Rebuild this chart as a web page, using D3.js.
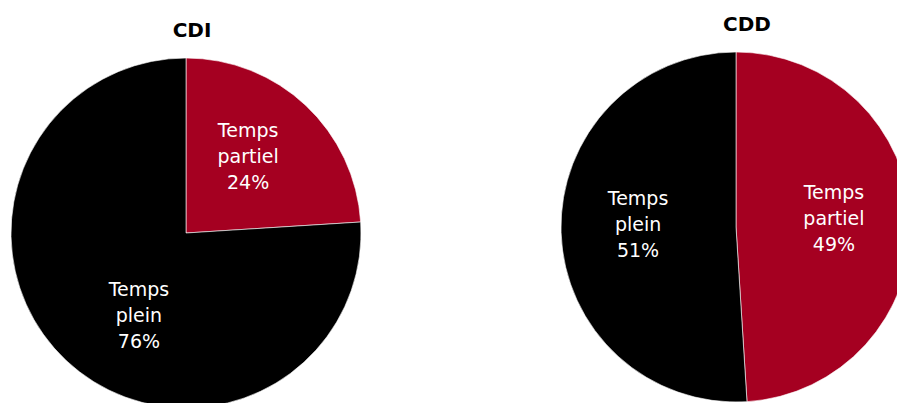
<!DOCTYPE html>
<html>
<head>
<meta charset="utf-8">
<script src="https://cdn.jsdelivr.net/npm/d3@7"></script>
<style>
  html, body { margin: 0; padding: 0; background: #fff; }
  svg { display: block; }
</style>
</head>
<body>
<svg id="chart" width="897" height="403"></svg>
<script>
// Part-time vs full-time share by contract type
const contracts = ["CDI", "CDD"];
const categories = ["Temps partiel", "Temps plein"];
const tempsPartiel = [24, 49];
const tempsPlein = [76, 51];

const colors = { "Temps partiel": "#a50021", "Temps plein": "#000000" };

// Layout of each pie: centre, radius, title placement and label nudges per slice
const layout = [
  { cx: 186, cy: 233, r: 175, tx: 192, ty: 37, nudge: [[-5, 0], [20, 17]] },
  { cx: 736, cy: 227, r: 175, tx: 747, ty: 31, nudge: [[0, 0], [0, 0]] }
];

const svg = d3.select("#chart");

const pie = d3.pie().sort(null).value(d => d.value);

contracts.forEach((name, i) => {
  const L = layout[i];
  const slices = categories.map((c, k) => ({
    category: c,
    value: k === 0 ? tempsPartiel[i] : tempsPlein[i]
  }));

  const arc = d3.arc().innerRadius(0).outerRadius(L.r);
  const labelArc = d3.arc().innerRadius(L.r * 0.56).outerRadius(L.r * 0.56);

  const g = svg.append("g").attr("transform", `translate(${L.cx},${L.cy})`);

  const arcs = pie(slices);

  g.selectAll("path")
    .data(arcs)
    .join("path")
    .attr("d", arc)
    .attr("fill", d => colors[d.data.category])
    .attr("stroke", "#ffffff")
    .attr("stroke-width", 0.6);

  const labels = g.selectAll("text.lbl")
    .data(arcs)
    .join("text")
    .attr("class", "lbl")
    .attr("transform", (d, k) => {
      const [x, y] = labelArc.centroid(d);
      return `translate(${x + L.nudge[k][0]},${y + L.nudge[k][1]})`;
    })
    .attr("text-anchor", "middle")
    .attr("fill", "#ffffff")
    .style("font-family", "'DejaVu Sans', sans-serif")
    .style("font-size", "19px");

  labels.each(function(d) {
    const lines = d.data.category.split(" ").concat([d.data.value + "%"]);
    const t = d3.select(this);
    lines.forEach((ln, j) => {
      t.append("tspan")
        .attr("x", 0)
        .attr("y", (j - 1) * 26 + 1)
        .text(ln);
    });
  });

  svg.append("text")
    .attr("x", L.tx)
    .attr("y", L.ty)
    .attr("text-anchor", "middle")
    .style("font-family", "'DejaVu Sans', sans-serif")
    .style("font-weight", "bold")
    .style("font-size", "20px")
    .attr("fill", "#000")
    .text(name);
});
</script>
</body>
</html>
